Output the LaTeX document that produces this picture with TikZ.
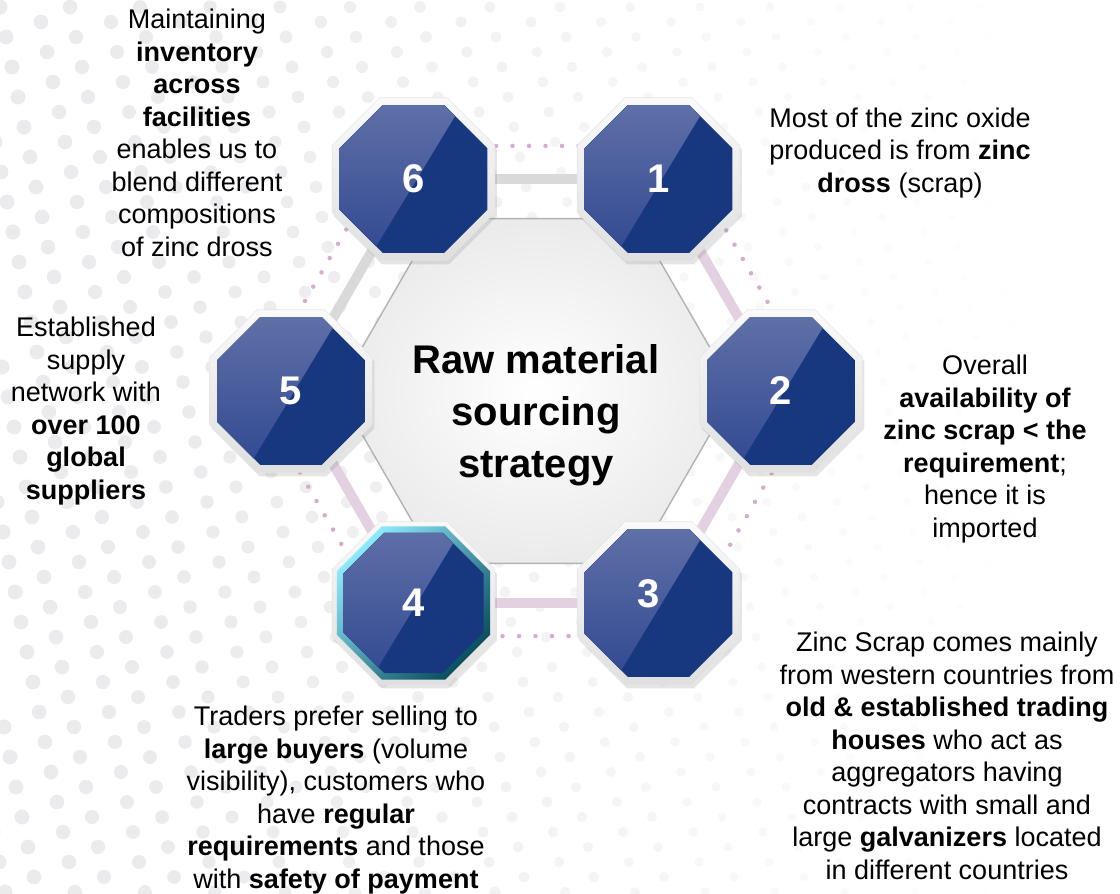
\documentclass[tikz,border=0pt]{standalone}
\usepackage{fontspec}
\setmainfont{Liberation Sans}
\usetikzlibrary{shapes.geometric,shadows}
\definecolor{octblue}{HTML}{17377F}
\definecolor{glosstop}{HTML}{6776AB}
\definecolor{glossbot}{HTML}{2A438E}
\definecolor{barpink}{HTML}{E3D0E1}
\definecolor{bargrey}{HTML}{D9D9D9}
\definecolor{dotpink}{HTML}{D4ADCD}
\definecolor{bgdot}{HTML}{EBEBEE}
\definecolor{cyanA}{HTML}{8EE8FB}
\definecolor{cyanM}{HTML}{1FBBE2}
\definecolor{cyanB}{HTML}{0A4F5E}
\pgfdeclarelayer{back}
\pgfdeclarelayer{mid}
\pgfsetlayers{back,mid,main}
\tikzset{
  octframe/.style={regular polygon, regular polygon sides=8, minimum size=176pt, inner sep=0pt,
    top color=gray!4, bottom color=gray!25, draw=gray!20, line width=0.6pt,
    drop shadow={opacity=0.2, shadow xshift=2pt, shadow yshift=-4pt}},
  octring/.style={regular polygon, regular polygon sides=8, minimum size=166pt, inner sep=0pt,
    top color=cyanA, middle color=cyanM, bottom color=cyanB, shading angle=45},
  octa/.style={regular polygon, regular polygon sides=8, minimum size=160pt, inner sep=0pt,
    fill=octblue, text=white, font=\bfseries\fontsize{40}{40}\selectfont,
    path picture={\fill[top color=glosstop, bottom color=glossbot]
      ([shift={(-100pt,100pt)}]path picture bounding box.center) -- ++(164pt,0pt)
      -- ++(-121pt,-200pt) -- ++(-43pt,0pt) -- cycle;}},
  octasmall/.style={octa, minimum size=152pt},
  barg/.style={line width=10pt, bargrey},
  barp/.style={line width=10pt, barpink},
  hub/.style={regular polygon, regular polygon sides=6, minimum size=398pt, inner sep=0pt,
    inner color=white, outer color=gray!16, draw=gray!60, line width=1.4pt},
  dotline/.style={regular polygon, regular polygon sides=6, minimum size=566pt, inner sep=0pt,
    draw=dotpink, line width=4.5pt, dash pattern=on 0pt off 16.5pt, line cap=round},
  title/.style={align=center, font=\bfseries\fontsize{40}{52}\selectfont, inner sep=0pt},
  body/.style={align=center, font=\fontsize{27}{32.5}\selectfont, inner sep=0pt},
}
\begin{document}
\begin{tikzpicture}[x=1pt,y=-1pt]
\useasboundingbox (0,0) rectangle (1120,894);
\begin{pgfonlayer}{back}
\fill[white] (0,0) rectangle (1120,894);
\foreach \rr in {0,...,30}{
  \foreach \kk in {0,...,34}{
    \pgfmathsetmacro\bx{\kk*35 + mod(\rr*6,70) - 35}
    \pgfmathsetmacro\by{\rr*30 + mod(\kk,2)*15 - 8}
    \pgfmathsetmacro\op{max(0,min(1,1.2-\bx/850))}
    \pgfmathsetmacro\rad{max(2,7.5-\bx/250)}
    \fill[bgdot, fill opacity=\op] (\bx,\by) circle[radius=\rad pt];
  }
}
\node[dotline] (dots) at (536,391) {};
\end{pgfonlayer}

\begin{pgfonlayer}{mid}
\node[hub] (hubshape) at (536,391) {};
\end{pgfonlayer}
\node[title] (title) at (536,415) {Raw material\\sourcing\\strategy};

% octagons
\node[octframe] (f1) at (658.5,179) {};
\node[octframe] (f2) at (781,391) {};
\node[octframe] (f3) at (658.5,603) {};
\node[octframe] (f4) at (413.5,603) {};
\node[octframe] (f5) at (291,391) {};
\node[octframe] (f6) at (413.5,179) {};
\node[octring] (r4) at (413.5,603) {};
\node[octa] (o1) at (658.5,179) {1};
\node[octa] (o2) at (781,391) {2};
\node[octa] (o3) at (658.5,603) {\raisebox{18pt}{3\hspace{20pt}}};
\node[octasmall] (o4) at (413.5,603) {4};
\node[octa] (o5) at (291,391) {5};
\node[octa] (o6) at (413.5,179) {6};

\begin{pgfonlayer}{mid}
\draw[barg] (o6.center) -- (o1.center);
\draw[barp] (o1.center) -- (o2.center);
\draw[barp] (o2.center) -- (o3.center);
\draw[barp] (o3.center) -- (o4.center);
\draw[barp] (o4.center) -- (o5.center);
\draw[barg] (o5.center) -- (o6.center);
\end{pgfonlayer}

% texts
\node[body] (t6) at (197,133) {Maintaining\\\textbf{inventory}\\\textbf{across}\\\textbf{facilities}\\enables us to\\blend different\\compositions\\of zinc dross};
\node[body] (t1) at (900,153) {Most of the zinc oxide\\produced is from \textbf{zinc}\\\textbf{dross} (scrap)};
\node[body] (t2) at (985,449) {Overall\\\textbf{availability of}\\\textbf{zinc scrap < the}\\\textbf{requirement};\\hence it is\\imported};
\node[body] (t5) at (86,411) {Established\\supply\\network with\\\textbf{over 100}\\\textbf{global}\\\textbf{suppliers}};
\node[body] (t3) at (947,756) {Zinc Scrap comes mainly\\from western countries from\\\textbf{old \& established trading}\\\textbf{houses} who act as\\aggregators having\\contracts with small and\\large \textbf{galvanizers} located\\in different countries};
\node[body] (t4) at (336,800) {Traders prefer selling to\\\textbf{large buyers} (volume\\visibility), customers who\\have \textbf{regular}\\\textbf{requirements} and those\\with \textbf{safety of payment}};
\end{tikzpicture}
\end{document}
